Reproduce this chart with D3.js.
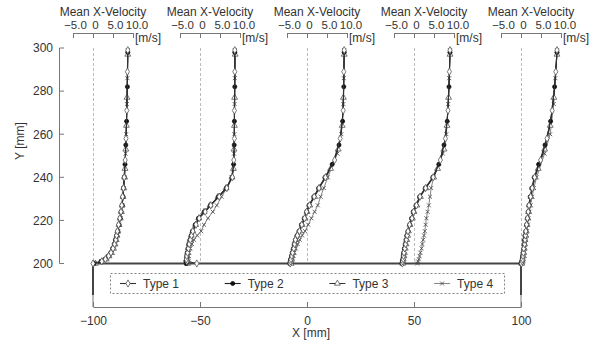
<!DOCTYPE html>
<html>
<head>
<meta charset="utf-8">
<script src="https://cdn.jsdelivr.net/npm/d3@7"></script>
<style>
  body { margin: 0; background: #fff; }
  svg { font-family: "Liberation Sans", Arial, sans-serif; }
</style>
</head>
<body>
<svg id="chart" width="592" height="340"></svg>
<script>
// measurement stations along X [mm]
const stations = [-100, -50, 0, 50, 100];
const xTicks = [-100, -50, 0, 50, 100];
const yTicks = [200, 220, 240, 260, 280, 300];
const velTicks = [-5.0, 0, 5.0, 10.0];
const typeNames = ["Type 1", "Type 2", "Type 3", "Type 4"];

// heights of the measurement points, Y [mm], per type
const type1Y = [200, 201, 202, 203.5, 205, 207, 209, 211, 213, 215, 218, 221, 224, 227, 231, 235, 240, 248, 258, 271, 289, 299];
const type2Y = [200, 201, 202, 203.5, 205, 207, 209, 211, 213, 215, 218, 221, 224, 227, 231, 235, 240, 246, 255, 266, 282, 298];
const type3Y = [200, 201, 202, 203.5, 205, 207, 209, 211, 213, 215, 218, 221, 224, 227, 231, 235, 240, 244, 253, 264, 277, 297];
const type4Y = [200, 201, 202, 203.5, 205, 207, 209, 211, 213, 215, 218, 221, 224, 227, 231, 235, 240, 251, 260, 274, 286, 299];

// mean x-velocity [m/s], one row per station
const type1Vel = [
  [0.0, 2.2, 3.1, 3.9, 4.5, 5.0, 5.4, 5.7, 5.9, 6.1, 6.4, 6.7, 7.0, 7.2, 7.4, 7.6, 7.8, 8.05, 8.25, 8.45, 8.6, 8.7],
  [-0.8, -3.3, -3.4, -3.3, -3.1, -2.9, -2.7, -2.4, -2.1, -1.8, -1.0, -0.2, 1.3, 2.7, 4.8, 6.7, 8.1, 8.45, 8.6, 8.6, 8.7, 8.7],
  [-4.2, -4.1, -4.0, -3.8, -3.6, -3.3, -3.1, -2.9, -2.4, -1.9, -1.3, -0.6, -0.1, 0.6, 1.8, 3.0, 4.6, 6.9, 8.3, 9.05, 9.2, 9.3],
  [-2.9, -2.8, -2.7, -2.6, -2.5, -2.3, -2.1, -1.9, -1.7, -1.5, -1.1, -0.5, -0.1, 0.6, 1.5, 2.9, 4.8, 6.6, 7.85, 8.5, 8.85, 9.0],
  [0.1, 0.3, 0.4, 0.5, 0.6, 0.7, 0.9, 1.0, 1.1, 1.2, 1.4, 1.6, 1.8, 2.0, 2.4, 2.8, 3.4, 4.9, 6.5, 7.8, 8.7, 9.0]
];
const type2Vel = [
  [0.3, 2.0, 3.0, 3.8, 4.4, 4.9, 5.3, 5.6, 5.9, 6.2, 6.5, 6.8, 7.0, 7.3, 7.5, 7.6, 7.8, 8.0, 8.2, 8.4, 8.6, 8.7],
  [-3.4, -3.5, -3.4, -3.3, -3.2, -3.0, -2.8, -2.5, -2.2, -1.9, -1.2, -0.4, 1.1, 2.6, 4.6, 6.6, 8.0, 8.4, 8.55, 8.6, 8.7, 8.7],
  [-4.3, -4.2, -4.1, -3.9, -3.7, -3.4, -3.2, -2.9, -2.5, -2.0, -1.4, -0.7, -0.1, 0.5, 1.7, 2.9, 4.5, 6.3, 8.0, 8.9, 9.2, 9.3],
  [-3.0, -2.9, -2.8, -2.7, -2.6, -2.4, -2.2, -2.0, -1.8, -1.5, -1.1, -0.6, -0.2, 0.5, 1.4, 2.8, 4.7, 6.2, 7.5, 8.3, 8.75, 9.0],
  [0.0, 0.2, 0.3, 0.4, 0.5, 0.7, 0.8, 0.9, 1.0, 1.2, 1.4, 1.6, 1.8, 2.0, 2.3, 2.7, 3.3, 4.4, 6.0, 7.4, 8.4, 9.0]
];
const type3Vel = [
  [0.6, 2.4, 3.3, 4.0, 4.6, 5.1, 5.5, 5.8, 6.0, 6.2, 6.5, 6.8, 7.1, 7.3, 7.5, 7.7, 7.9, 8.0, 8.2, 8.35, 8.5, 8.7],
  [-3.2, -3.3, -3.3, -3.2, -3.1, -2.9, -2.7, -2.5, -2.2, -1.8, -1.1, -0.3, 1.0, 2.5, 4.5, 6.5, 8.0, 8.35, 8.5, 8.6, 8.65, 8.8],
  [-4.0, -4.0, -3.9, -3.7, -3.5, -3.3, -3.0, -2.8, -2.4, -1.8, -1.2, -0.5, 0.0, 0.7, 1.9, 3.1, 4.7, 5.9, 7.8, 8.8, 9.1, 9.3],
  [-2.8, -2.8, -2.7, -2.5, -2.4, -2.2, -2.0, -1.8, -1.6, -1.4, -1.0, -0.4, 0.0, 0.7, 1.6, 3.0, 4.9, 5.9, 7.5, 8.25, 8.65, 9.0],
  [0.2, 0.3, 0.4, 0.6, 0.7, 0.8, 0.9, 1.0, 1.2, 1.3, 1.5, 1.7, 1.9, 2.1, 2.5, 2.9, 3.5, 4.3, 5.9, 7.3, 8.2, 9.0]
];
const type4Vel = [
  [0.4, 2.1, 3.2, 4.1, 4.8, 5.3, 5.6, 5.9, 6.1, 6.3, 6.6, 6.9, 7.1, 7.3, 7.5, 7.7, 7.9, 8.15, 8.3, 8.45, 8.6, 8.7],
  [-2.8, -2.9, -2.9, -2.9, -2.7, -2.4, -2.0, -1.5, -0.7, 0.3, 1.0, 2.0, 3.2, 4.2, 5.4, 6.7, 7.9, 8.5, 8.6, 8.65, 8.7, 8.7],
  [-3.8, -3.7, -3.6, -3.5, -3.2, -2.8, -2.3, -1.8, -1.2, -0.5, 0.3, 1.1, 1.9, 2.7, 3.4, 4.2, 5.2, 7.6, 8.6, 9.1, 9.2, 9.3],
  [0.8, 1.0, 1.2, 1.4, 1.6, 1.9, 2.1, 2.3, 2.5, 2.7, 2.9, 3.1, 3.4, 3.7, 4.0, 4.3, 4.9, 7.2, 8.1, 8.55, 8.8, 9.0],
  [0.2, 0.4, 0.5, 0.6, 0.7, 0.9, 1.0, 1.2, 1.3, 1.5, 1.7, 1.9, 2.1, 2.4, 2.8, 3.2, 3.9, 5.9, 7.3, 8.2, 8.6, 9.0]
];

const seriesVel = [type1Vel, type2Vel, type3Vel, type4Vel];
const seriesY = [type1Y, type2Y, type3Y, type4Y];
const symbols = [d3.symbolDiamond, d3.symbolCircle, d3.symbolTriangle, d3.symbolX];
const symSize = [15, 13, 15, 12];
const symFill = ["#fff", "#111", "#fff", "none"];
const symStroke = ["#555", "#111", "#555", "#444"];
const lineColor = ["#333", "#222", "#333", "#666"];
const lineWidth = [1.1, 1.1, 1.0, 0.8];

const svg = d3.select("#chart");
const textColor = "#333";
const axisColor = "#777";

const x = d3.scaleLinear().domain([-100, 100]).range([93, 521]);
const y = d3.scaleLinear().domain([200, 300]).range([263.5, 48]);
// velocity scale relative to station zero: 4 px per m/s
function velScale(st) {
  return d3.scaleLinear().domain([-5, 10]).range([x(st) - 20, x(st) + 40]);
}

// ---- Y axis
const yAxis = svg.append("g");
yAxis.append("line")
  .attr("x1", 59.5).attr("x2", 59.5)
  .attr("y1", y(300)).attr("y2", y(200))
  .attr("stroke", axisColor);
yAxis.selectAll("g.tick").data(yTicks).enter().append("g")
  .each(function (d) {
    const g = d3.select(this);
    g.append("line").attr("x1", 59.5).attr("x2", 64)
      .attr("y1", y(d)).attr("y2", y(d)).attr("stroke", axisColor);
    g.append("text").attr("x", 53).attr("y", y(d)).attr("dy", "0.36em")
      .attr("text-anchor", "end").attr("font-size", 12).attr("fill", textColor)
      .text(d);
  });
svg.append("text")
  .attr("transform", "translate(24,141) rotate(-90)")
  .attr("text-anchor", "middle").attr("font-size", 12).attr("fill", textColor)
  .text("Y [mm]");

// ---- dashed zero-velocity lines
svg.append("g").selectAll("line").data(stations).enter().append("line")
  .attr("x1", d => x(d) + 0.5).attr("x2", d => x(d) + 0.5)
  .attr("y1", y(300)).attr("y2", y(200))
  .attr("stroke", "#aaa").attr("stroke-width", 0.8)
  .attr("stroke-dasharray", "3,2");

// ---- top velocity axes
stations.forEach(st => {
  const v = velScale(st);
  const g = svg.append("g").attr("transform", "translate(0,33)");
  g.call(d3.axisTop(v).tickValues(velTicks).tickSize(-5).tickSizeOuter(0)
    .tickFormat(d => d === 0 ? "0" : d3.format(".1f")(d)));
  g.select(".domain").attr("stroke", axisColor);
  g.selectAll(".tick line").attr("stroke", axisColor);
  g.selectAll(".tick text")
    .attr("y", -4).attr("dx", d => d === 10 ? 3.5 : 2)
    .attr("font-size", 11.5).attr("fill", textColor)
    .attr("font-family", "Liberation Sans, Arial, sans-serif");
  svg.append("text").attr("x", v(2.5)).attr("y", 16)
    .attr("text-anchor", "middle").attr("font-size", 12).attr("fill", textColor)
    .text("Mean X-Velocity");
  svg.append("text").attr("x", v(10) + 2).attr("y", 42)
    .attr("font-size", 12).attr("fill", textColor)
    .text("[m/s]");
});

// ---- bottom X axis and plate
const xAxisG = svg.append("g").attr("transform", "translate(0,307)");
xAxisG.call(d3.axisBottom(x).tickValues(xTicks).tickSize(-5).tickSizeOuter(0));
xAxisG.select(".domain").attr("stroke", axisColor);
xAxisG.selectAll(".tick line").attr("stroke", axisColor);
xAxisG.selectAll(".tick text").attr("y", 9).attr("dy", "0.71em")
  .attr("font-size", 12).attr("fill", textColor)
  .attr("font-family", "Liberation Sans, Arial, sans-serif");
svg.append("text").attr("x", 311).attr("y", 337)
  .attr("text-anchor", "middle").attr("font-size", 12).attr("fill", textColor)
  .text("X [mm]");

// thin side lines down to the axis
[-100, 100].forEach(d => {
  svg.append("line").attr("x1", x(d)).attr("x2", x(d))
    .attr("y1", y(200)).attr("y2", 307).attr("stroke", axisColor);
});
// thick plate outline
svg.append("path")
  .attr("d", d3.line()([[x(-100), 295], [x(-100), y(200)], [x(100), y(200)], [x(100), 295]]))
  .attr("fill", "none").attr("stroke", "#444").attr("stroke-width", 2);

// ---- profiles
const line = d3.line();
for (let t = 3; t >= 0; t--) {
  const g = svg.append("g");
  stations.forEach((st, si) => {
    const v = velScale(st);
    const pts = seriesY[t].map((yy, i) => [v(seriesVel[t][si][i]), y(yy)]);
    g.append("path").attr("d", line(pts))
      .attr("fill", "none").attr("stroke", lineColor[t]).attr("stroke-width", lineWidth[t]);
    g.selectAll(null).data(pts).enter().append("path")
      .attr("transform", p => `translate(${p[0]},${p[1]})`)
      .attr("d", d3.symbol(symbols[t], symSize[t]))
      .attr("fill", symFill[t]).attr("stroke", symStroke[t]).attr("stroke-width", 0.8);
  });
}

// ---- legend
const legend = svg.append("g");
legend.append("rect").attr("x", 110.5).attr("y", 273.5).attr("width", 394).attr("height", 20)
  .attr("fill", "#fff").attr("stroke", "#777").attr("stroke-dasharray", "2,2").attr("stroke-width", 0.9);
typeNames.forEach((name, t) => {
  const cx = 128 + t * 104.7;
  const cy = 283.5;
  legend.append("line").attr("x1", cx - 8).attr("x2", cx + 8).attr("y1", cy).attr("y2", cy)
    .attr("stroke", lineColor[t]).attr("stroke-width", lineWidth[t]);
  legend.append("path").attr("transform", `translate(${cx},${cy})`)
    .attr("d", d3.symbol(symbols[t], symSize[t]))
    .attr("fill", symFill[t]).attr("stroke", symStroke[t]).attr("stroke-width", 0.8);
  legend.append("text").attr("x", cx + 15).attr("y", cy).attr("dy", "0.36em")
    .attr("font-size", 12).attr("fill", textColor).text(name);
});
</script>
</body>
</html>
